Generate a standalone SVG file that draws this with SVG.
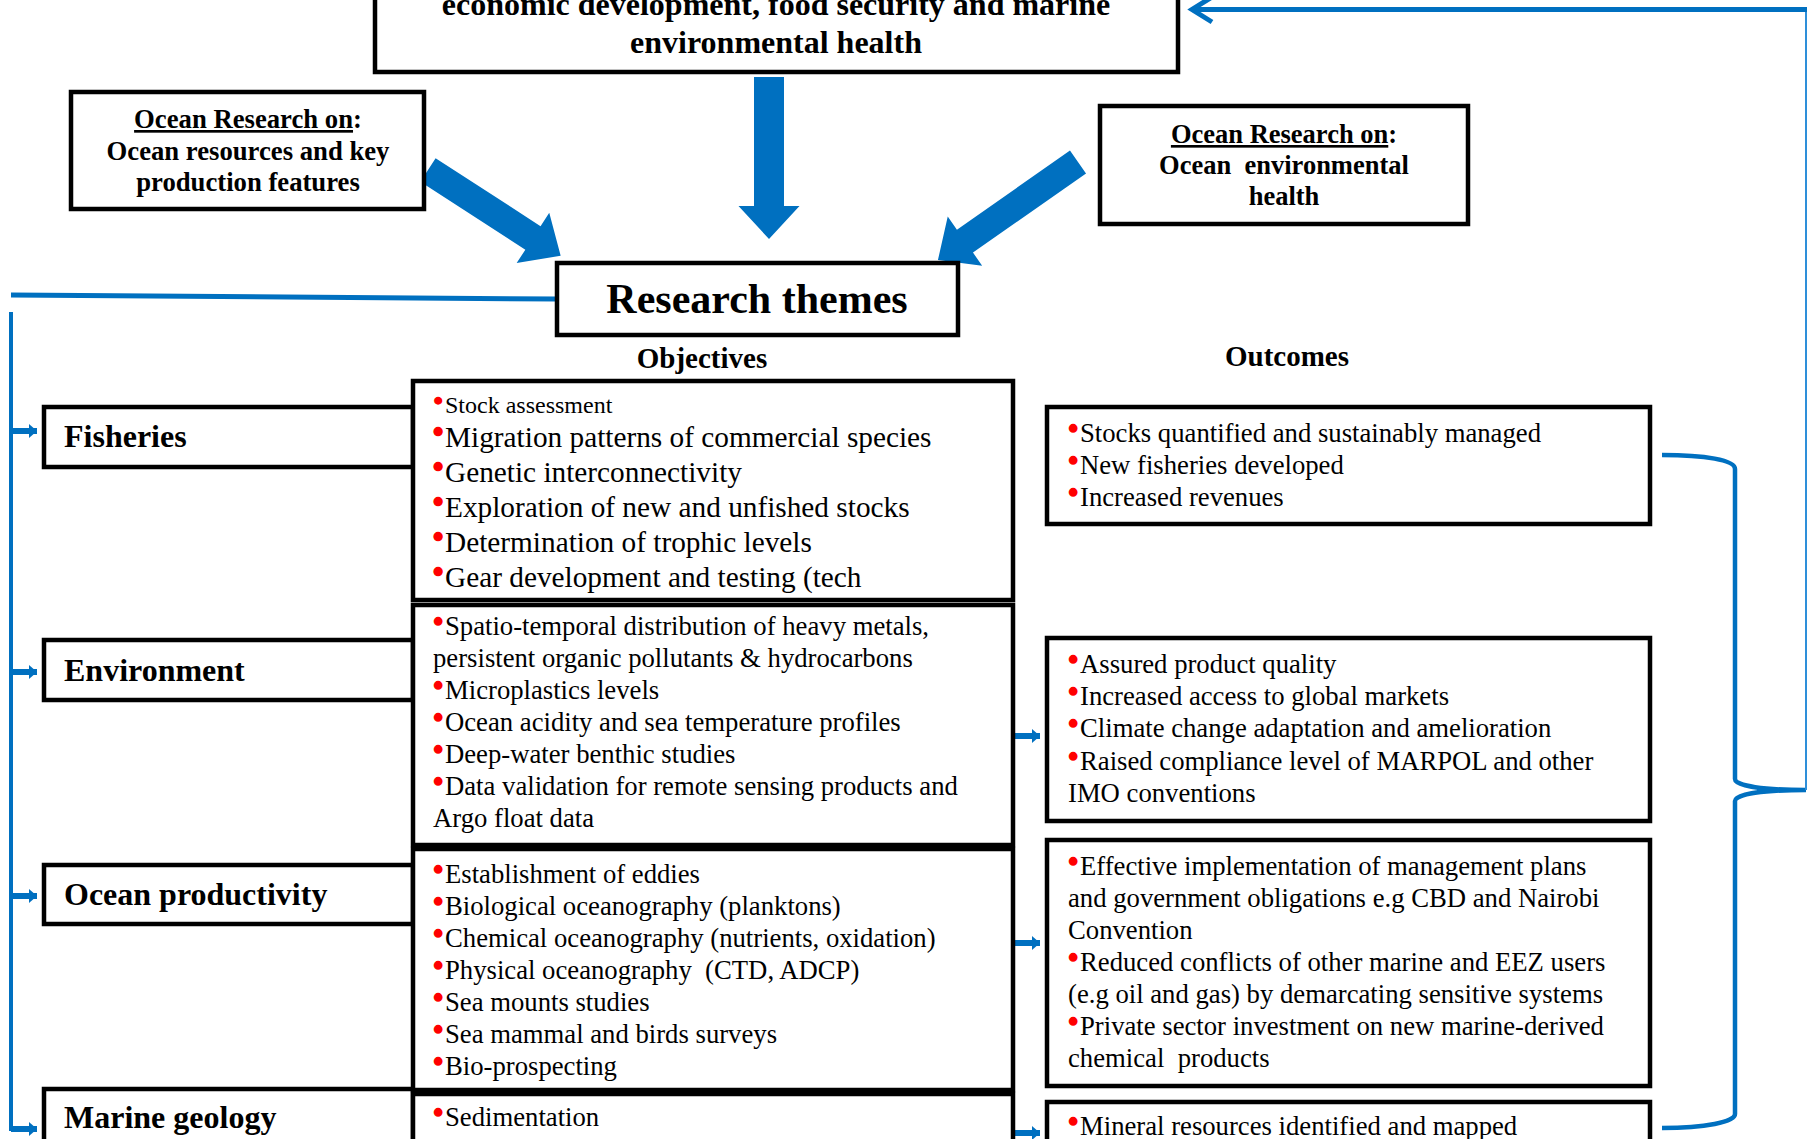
<svg xmlns="http://www.w3.org/2000/svg" width="1807" height="1139" viewBox="0 0 1807 1139">
<style>
text{font-family:"Liberation Serif","Times New Roman",serif;fill:#000}
.b{font-weight:bold}
.box{fill:#fff;stroke:#000;stroke-width:4.5}
.blk{fill:#0070C0}
.ln{fill:none;stroke:#0070C0}
.o29{font-size:29.3px}
.o26{font-size:26.7px}
.r{fill:#FF0000;stroke:#FF0000;stroke-width:2.4px}
</style>
<defs>
<marker id="sa" markerUnits="userSpaceOnUse" markerWidth="10" markerHeight="14" refX="8" refY="7" orient="auto">
<path d="M0,0 L8,7 L0,14 Z" fill="#0070C0"/>
</marker>
</defs>
<rect width="1807" height="1139" fill="#fff"/>

<g id="connectors">
<polygon class="blk" points="0,-15 129,-15 129,-30.5 162,0 129,30.5 129,15 0,15" transform="translate(769,77) rotate(90)"/>
<polygon class="blk" points="0,-14 125,-14 125,-30 158,0 125,30 125,14 0,14" transform="translate(428,170) rotate(32.9)"/>
<polygon class="blk" points="0,-14 138,-14 138,-30 171,0 138,30 138,14 0,14" transform="translate(1078,162) rotate(145)"/>
<line class="ln" x1="11" y1="295" x2="557" y2="299" stroke-width="5"/>
<line class="ln" x1="11" y1="312" x2="11" y2="1131" stroke-width="4"/>
<line class="ln" x1="11" y1="431" x2="37" y2="431" stroke-width="6" marker-end="url(#sa)"/>
<line class="ln" x1="11" y1="672" x2="37" y2="672" stroke-width="6" marker-end="url(#sa)"/>
<line class="ln" x1="11" y1="896" x2="37" y2="896" stroke-width="6" marker-end="url(#sa)"/>
<line class="ln" x1="11" y1="1129" x2="37" y2="1129" stroke-width="6" marker-end="url(#sa)"/>
<line class="ln" x1="1015" y1="736" x2="1040" y2="736" stroke-width="6" marker-end="url(#sa)"/>
<line class="ln" x1="1015" y1="943" x2="1040" y2="943" stroke-width="6" marker-end="url(#sa)"/>
<line class="ln" x1="1015" y1="1133" x2="1040" y2="1133" stroke-width="6" marker-end="url(#sa)"/>
<path class="ln" d="M1662,455 C1705,455 1735,460 1735,469 L1735,779 C1735,786 1765,790 1806,790 C1765,790 1735,794 1735,801 L1735,1114 C1735,1122 1705,1128 1662,1128" stroke-width="4.5"/>
<line x1="1806" y1="9" x2="1806" y2="790" stroke="#2E8FD9" stroke-width="2"/>
<line class="ln" x1="1807" y1="9.5" x2="1193" y2="9.5" stroke-width="5"/>
<path class="ln" d="M1212,-3 L1192,9.5 L1212,22" stroke-width="5" stroke-linejoin="miter"/>
</g>

<g id="goal">
<rect class="box" x="375" y="-10" width="803" height="82"/>
<text class="b" x="776" y="15" font-size="32" text-anchor="middle">economic development, food security and marine</text>
<text class="b" x="776" y="53" font-size="32" text-anchor="middle">environmental health</text>
</g>

<g id="research-resources">
<rect class="box" x="71" y="92" width="353" height="117"/>
<text class="b" x="248" y="128" font-size="26.7" text-anchor="middle"><tspan text-decoration="underline">Ocean Research on</tspan>:</text>
<text class="b" x="248" y="160" font-size="26.7" text-anchor="middle">Ocean resources and key</text>
<text class="b" x="248" y="191" font-size="26.7" text-anchor="middle">production features</text>
</g>

<g id="research-environment">
<rect class="box" x="1100" y="106" width="368" height="118"/>
<text class="b" x="1284" y="143" font-size="26.5" text-anchor="middle"><tspan text-decoration="underline">Ocean Research on</tspan>:</text>
<text class="b" x="1284" y="174" font-size="26.5" text-anchor="middle" xml:space="preserve">Ocean  environmental</text>
<text class="b" x="1284" y="205" font-size="26.5" text-anchor="middle">health</text>
</g>

<g id="research-themes">
<rect class="box" x="557" y="263" width="401" height="72"/>
<text class="b" x="757" y="313" font-size="42" text-anchor="middle">Research themes</text>
</g>

<g id="headers">
<text class="b" x="702" y="368" font-size="29" text-anchor="middle">Objectives</text>
<text class="b" x="1287" y="366" font-size="29" text-anchor="middle">Outcomes</text>
</g>

<g id="theme-fisheries">
<rect class="box" x="44" y="407" width="369" height="60"/>
<text class="b" x="64" y="447" font-size="32">Fisheries</text>
</g>
<g id="theme-environment">
<rect class="box" x="44" y="640" width="369" height="60"/>
<text class="b" x="64" y="681" font-size="32">Environment</text>
</g>
<g id="theme-productivity">
<rect class="box" x="44" y="865" width="369" height="59"/>
<text class="b" x="64" y="905" font-size="32">Ocean productivity</text>
</g>
<g id="theme-geology">
<rect class="box" x="44" y="1089" width="369" height="100"/>
<text class="b" x="64" y="1128" font-size="32">Marine geology</text>
</g>

<g id="obj-fisheries">
<rect class="box" x="413" y="381" width="600" height="219"/>
<text x="434" y="413" font-size="24"><tspan class="r" dy="-4">•</tspan><tspan x="445" dy="4">Stock assessment</tspan></text>
<text class="o29" x="433" y="447"><tspan class="r" dy="-5">•</tspan><tspan x="445" dy="5">Migration patterns of commercial species</tspan></text>
<text class="o29" x="433" y="482"><tspan class="r" dy="-5">•</tspan><tspan x="445" dy="5">Genetic interconnectivity</tspan></text>
<text class="o29" x="433" y="517"><tspan class="r" dy="-5">•</tspan><tspan x="445" dy="5">Exploration of new and unfished stocks</tspan></text>
<text class="o29" x="433" y="552"><tspan class="r" dy="-5">•</tspan><tspan x="445" dy="5">Determination of trophic levels</tspan></text>
<text class="o29" x="433" y="587"><tspan class="r" dy="-5">•</tspan><tspan x="445" dy="5">Gear development and testing (tech</tspan></text>
</g>

<g id="obj-environment">
<rect class="box" x="413" y="605" width="600" height="240"/>
<text class="o26" x="433.5" y="635"><tspan class="r" dy="-4">•</tspan><tspan x="445" dy="4">Spatio-temporal distribution of heavy metals,</tspan></text>
<text class="o26" x="433" y="667">persistent organic pollutants &amp; hydrocarbons</text>
<text class="o26" x="433.5" y="699"><tspan class="r" dy="-4">•</tspan><tspan x="445" dy="4">Microplastics levels</tspan></text>
<text class="o26" x="433.5" y="731"><tspan class="r" dy="-4">•</tspan><tspan x="445" dy="4">Ocean acidity and sea temperature profiles</tspan></text>
<text class="o26" x="433.5" y="763"><tspan class="r" dy="-4">•</tspan><tspan x="445" dy="4">Deep-water benthic studies</tspan></text>
<text class="o26" x="433.5" y="795"><tspan class="r" dy="-4">•</tspan><tspan x="445" dy="4">Data validation for remote sensing products and</tspan></text>
<text class="o26" x="433" y="827">Argo float data</text>
</g>

<g id="obj-productivity">
<rect class="box" x="413" y="849" width="600" height="241"/>
<text class="o26" x="433.5" y="883"><tspan class="r" dy="-4">•</tspan><tspan x="445" dy="4">Establishment of eddies</tspan></text>
<text class="o26" x="433.5" y="915"><tspan class="r" dy="-4">•</tspan><tspan x="445" dy="4">Biological oceanography (planktons)</tspan></text>
<text class="o26" x="433.5" y="947"><tspan class="r" dy="-4">•</tspan><tspan x="445" dy="4">Chemical oceanography (nutrients, oxidation)</tspan></text>
<text class="o26" x="433.5" y="979" xml:space="preserve"><tspan class="r" dy="-4">•</tspan><tspan x="445" dy="4">Physical oceanography  (CTD, ADCP)</tspan></text>
<text class="o26" x="433.5" y="1011"><tspan class="r" dy="-4">•</tspan><tspan x="445" dy="4">Sea mounts studies</tspan></text>
<text class="o26" x="433.5" y="1043"><tspan class="r" dy="-4">•</tspan><tspan x="445" dy="4">Sea mammal and birds surveys</tspan></text>
<text class="o26" x="433.5" y="1075"><tspan class="r" dy="-4">•</tspan><tspan x="445" dy="4">Bio-prospecting</tspan></text>
</g>

<g id="obj-geology">
<rect class="box" x="413" y="1094" width="600" height="100"/>
<text class="o26" x="433.5" y="1126"><tspan class="r" dy="-4">•</tspan><tspan x="445" dy="4">Sedimentation</tspan></text>
</g>

<g id="out-fisheries">
<rect class="box" x="1047" y="407" width="603" height="117"/>
<text class="o26" x="1068.5" y="442"><tspan class="r" dy="-4">•</tspan><tspan x="1080" dy="4">Stocks quantified and sustainably managed</tspan></text>
<text class="o26" x="1068.5" y="474"><tspan class="r" dy="-4">•</tspan><tspan x="1080" dy="4">New fisheries developed</tspan></text>
<text class="o26" x="1068.5" y="506"><tspan class="r" dy="-4">•</tspan><tspan x="1080" dy="4">Increased revenues</tspan></text>
</g>

<g id="out-environment">
<rect class="box" x="1047" y="638" width="603" height="183"/>
<text class="o26" x="1068.5" y="673"><tspan class="r" dy="-4">•</tspan><tspan x="1080" dy="4">Assured product quality</tspan></text>
<text class="o26" x="1068.5" y="705"><tspan class="r" dy="-4">•</tspan><tspan x="1080" dy="4">Increased access to global markets</tspan></text>
<text class="o26" x="1068.5" y="737"><tspan class="r" dy="-4">•</tspan><tspan x="1080" dy="4">Climate change adaptation and amelioration</tspan></text>
<text class="o26" x="1068.5" y="770"><tspan class="r" dy="-4">•</tspan><tspan x="1080" dy="4">Raised compliance level of MARPOL and other</tspan></text>
<text class="o26" x="1068" y="802">IMO conventions</text>
</g>

<g id="out-productivity">
<rect class="box" x="1047" y="840" width="603" height="246"/>
<text class="o26" x="1068.5" y="875"><tspan class="r" dy="-4">•</tspan><tspan x="1080" dy="4">Effective implementation of management plans</tspan></text>
<text class="o26" x="1068" y="907">and government obligations e.g CBD and Nairobi</text>
<text class="o26" x="1068" y="939">Convention</text>
<text class="o26" x="1068.5" y="971"><tspan class="r" dy="-4">•</tspan><tspan x="1080" dy="4">Reduced conflicts of other marine and EEZ users</tspan></text>
<text class="o26" x="1068" y="1003">(e.g oil and gas) by demarcating sensitive systems</text>
<text class="o26" x="1068.5" y="1035"><tspan class="r" dy="-4">•</tspan><tspan x="1080" dy="4">Private sector investment on new marine-derived</tspan></text>
<text class="o26" x="1068" y="1067" xml:space="preserve">chemical  products</text>
</g>

<g id="out-geology">
<rect class="box" x="1047" y="1102" width="603" height="100"/>
<text class="o26" x="1068.5" y="1135"><tspan class="r" dy="-4">•</tspan><tspan x="1080" dy="4">Mineral resources identified and mapped</tspan></text>
</g>
</svg>
